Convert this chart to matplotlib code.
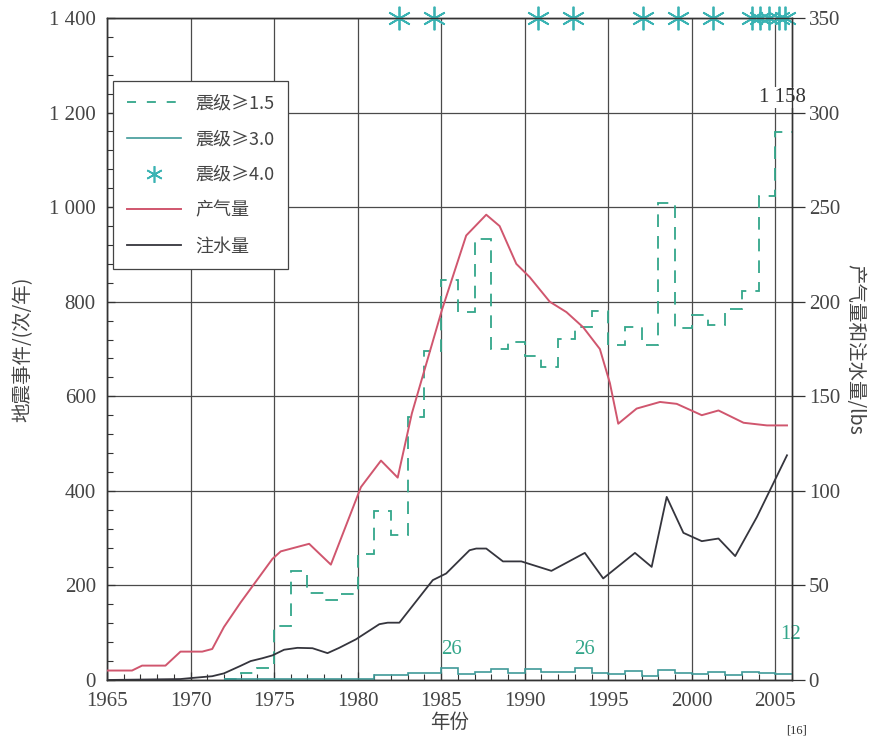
import matplotlib
matplotlib.use("Agg")
import matplotlib.pyplot as plt
from matplotlib.lines import Line2D
from matplotlib.ticker import MultipleLocator, FuncFormatter
import numpy as np

plt.rcParams['font.family'] = ['Liberation Serif', 'Noto Sans CJK SC', 'DejaVu Sans']

# ---------------- data ----------------
# yearly earthquake counts (left axis), bins start at each year
m15_years = list(range(1972, 2006))
m15_counts = [3, 15, 25, 114, 231, 184, 169, 181, 266, 357, 306, 556, 695, 845, 778,
              933, 699, 714, 686, 662, 721, 747, 781, 709, 746, 709, 1008, 744, 772,
              750, 785, 823, 1024, 1158]

m30_years = list(range(1972, 2006))
m30_counts = [3, 3, 3, 3, 3, 3, 3, 3, 3, 10, 10, 15, 15, 26, 12, 17, 24, 15, 23, 17,
              17, 26, 14, 12, 19, 8, 22, 15, 12, 16, 10, 17, 14, 12]

# M>=4.0 events (time of event)
m40_times = [1982.5, 1984.6, 1990.8, 1992.9, 1997.1, 1999.2, 2001.3, 2003.6,
             2004.1, 2004.6, 2005.2, 2005.6]

# gas production (right axis)
gas_years = [1965.0, 1966.5, 1967.1, 1968.5, 1969.4, 1970.7, 1971.3, 1972.0, 1973.0,
             1974.9, 1975.4, 1977.1, 1978.4, 1980.2, 1981.4, 1982.4, 1983.25, 1985.06,
             1986.5, 1987.7, 1988.5, 1989.5, 1990.3, 1991.5, 1992.5, 1993.5, 1994.5,
             1995.1, 1995.6, 1996.7, 1998.1, 1999.1, 2000.6, 2001.6, 2003.1, 2004.5,
             2005.7]
gas_vals = [5, 5, 7.6, 7.6, 15, 15, 16.4, 28, 41,
            64, 68, 72, 61, 102, 116, 107, 141, 196,
            235, 246, 240, 220, 213, 200, 194.5, 186.5, 175,
            157, 135.5, 143.5, 147, 146, 140, 142.5, 136, 134.6,
            134.6]

# water injection (right axis)
water_years = [1965.0, 1969.4, 1970.0, 1971.3, 1972.0, 1973.0, 1973.6, 1974.3, 1974.9,
               1975.6, 1976.4, 1977.3, 1978.2, 1978.9, 1979.9, 1981.3, 1981.8, 1982.5,
               1984.5, 1985.3, 1986.7, 1987.1, 1987.7, 1988.7, 1989.8, 1991.6, 1993.6,
               1994.7, 1996.6, 1997.6, 1998.5, 1999.5, 2000.6, 2001.6, 2002.6, 2003.9,
               2005.7]
water_vals = [0, 0.5, 1, 2, 3.5, 7.5, 10, 11.5, 13,
              16, 17, 16.8, 14.2, 17, 21.5, 29.5, 30.3, 30.3,
              52.8, 56.3, 68.6, 69.5, 69.5, 62.7, 62.7, 57.7, 67.2,
              53.7, 67.2, 59.8, 96.8, 77.8, 73.4, 74.8, 65.5, 86.2,
              118.8]

left_ticks = [0, 200, 400, 600, 800, 1000, 1200, 1400]
right_ticks = [0, 50, 100, 150, 200, 250, 300, 350]
x_ticks = [1965, 1970, 1975, 1980, 1985, 1990, 1995, 2000, 2005]

labels = ['震级≥1.5', '震级≥3.0', '震级≥4.0', '产气量', '注水量']

# ---------------- style ----------------
c_dash = '#33a68a'
c_solid = '#3f9a98'
c_star = '#3ab3b3'
c_gas = '#d0566e'
c_water = '#35353d'
grid_c = '#4a4a4a'
txt_c = '#444444'
cjk = ['Noto Sans CJK SC', 'Liberation Serif']

fig = plt.figure(figsize=(8.69, 7.38), dpi=100)
ax = fig.add_axes([0.1231, 0.0786, 0.7883, 0.8970])
ax2 = ax.twinx()

ax.set_xlim(1965, 2006)
ax.set_ylim(0, 1400)
ax2.set_ylim(0, 350)

ax.set_xticks(x_ticks)
ax.xaxis.set_minor_locator(MultipleLocator(1))
ax.set_yticks(left_ticks)
ax.yaxis.set_minor_locator(MultipleLocator(40))
ax.yaxis.set_major_formatter(FuncFormatter(lambda v, p: f'{int(v):,}'.replace(',', ' ')))
ax2.set_yticks(right_ticks)

ax.grid(True, which='major', color=grid_c, lw=0.9)
ax.set_axisbelow(True)

for a in (ax, ax2):
    for s in a.spines.values():
        s.set_color('#333333')
        s.set_linewidth(1.0)

ax.tick_params(axis='both', which='major', direction='in', length=6, width=0.9,
               labelsize=15, colors='#333333', labelcolor=txt_c)
ax.tick_params(axis='y', which='major', pad=8)
ax.tick_params(axis='x', which='major', pad=9)
ax.tick_params(axis='both', which='minor', direction='in', length=4, width=0.8,
               colors='#333333')
ax.tick_params(axis='y', which='both', right=False)
ax.tick_params(axis='x', which='both', top=False)
ax2.tick_params(axis='y', which='major', direction='out', length=9, width=0.9,
                labelsize=15, colors='#333333', labelcolor=txt_c, pad=3)

# step series
edges15 = m15_years + [m15_years[-1] + 1]
edges30 = m30_years + [m30_years[-1] + 1]
ax.stairs(m15_counts, edges15, baseline=None, color=c_dash, lw=1.3,
          linestyle=(0, (7, 5)), zorder=3)
ax.stairs(m30_counts, edges30, baseline=None, color=c_solid, lw=1.2, zorder=3)

# stars for M>=4.0 at top
ax.plot(m40_times, [1400] * len(m40_times), linestyle='none', marker=(6, 2, 0),
        markersize=17, markeredgewidth=1.3, color=c_star, clip_on=False, zorder=6)

# gas and water
ax2.plot(gas_years, gas_vals, color=c_gas, lw=1.4, zorder=4)
ax2.plot(water_years, water_vals, color=c_water, lw=1.3, zorder=4)

# value labels
for yr in (1985, 1993):
    i = m30_years.index(yr)
    ax.annotate(f'{m30_counts[i]}', (yr + 0.6, m30_counts[i]), xytext=(0, 6),
                textcoords='offset points', ha='center', va='bottom',
                fontsize=15, color=c_dash)
ax.annotate(f'{m30_counts[-1]}', (m30_years[-1] + 0.9, m30_counts[-1]), xytext=(0, 22),
            textcoords='offset points', ha='center', va='bottom', fontsize=15,
            color=c_dash, annotation_clip=False)
ax.annotate(f'{m15_counts[-1]:,}'.replace(',', ' '), (m15_years[-1] + 0.4, m15_counts[-1]),
            xytext=(0, 18), textcoords='offset points', ha='center', va='bottom',
            fontsize=15, color='#333333', annotation_clip=False,
            bbox=dict(boxstyle='square,pad=0.05', fc='white', ec='none'), zorder=7)

# axis labels
ax.set_xlabel('年份', fontsize=14, color=txt_c, labelpad=0, family=cjk)
ax.set_ylabel('地震事件/(次/年)', fontsize=14, color=txt_c, labelpad=11, family=cjk)
ax2.set_ylabel('产气量和注水量/lbs', fontsize=14, color=txt_c, rotation=270,
               labelpad=18, family=cjk)

# legend
handles = [
    Line2D([], [], color=c_dash, lw=1.3, linestyle=(0, (5, 6))),
    Line2D([], [], color=c_solid, lw=1.2),
    Line2D([], [], color=c_star, linestyle='none', marker=(6, 2, 0), markersize=12,
           markeredgewidth=1.2),
    Line2D([], [], color=c_gas, lw=1.4),
    Line2D([], [], color=c_water, lw=1.3),
]
leg = ax2.legend(handles, labels, loc='upper left', bbox_to_anchor=(0.009, 0.905),
                 borderaxespad=0, frameon=True, fancybox=False, edgecolor='#444444',
                 framealpha=1, handlelength=3.0, labelspacing=0.98,
                 borderpad=0.75, handletextpad=0.8,
                 prop={'family': cjk, 'size': 13})
leg.get_frame().set_linewidth(0.9)
for t in leg.get_texts():
    t.set_color(txt_c)
leg.set_zorder(10)

fig.text(0.905, 0.002, '[16]', fontsize=9, color='#333333', va='bottom', ha='left')

fig.savefig('out.png', dpi=100)
